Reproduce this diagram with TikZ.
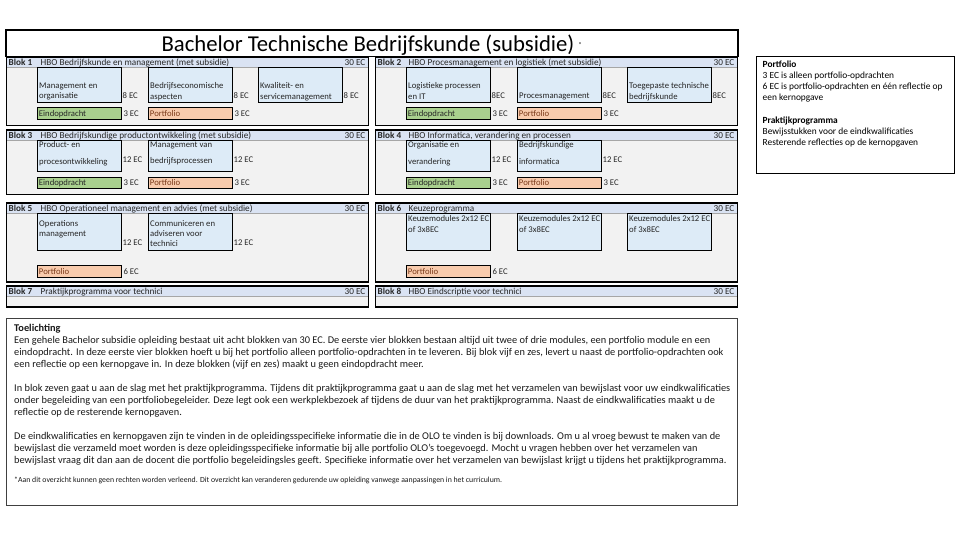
\documentclass[tikz,border=0pt]{standalone}
\usepackage{fontspec}
\setmainfont{Carlito}
\usetikzlibrary{positioning}

\definecolor{headblue}{HTML}{DAE3F3}
\definecolor{blokgray}{HTML}{F2F2F2}
\definecolor{modblue}{HTML}{DDEBF7}
\definecolor{eindgreen}{HTML}{A9D08E}
\definecolor{portorange}{HTML}{F8CBAD}
\definecolor{celltext}{HTML}{262626}
\definecolor{portbrown}{HTML}{7A3A1A}

\begin{document}
\begin{tikzpicture}[x=1pt,y=-1pt,
  blokframe/.style={draw=black,line width=1.6pt},
  blokhead/.style={fill=headblue,draw=black!35,line width=0.4pt},
  headtxt/.style={anchor=base west,inner sep=0pt,text=celltext,font=\fontsize{9.2}{11}\selectfont},
  modbox/.style={draw=black,fill=modblue,line width=0.9pt,anchor=north west,
    minimum width=84pt,minimum height=35pt,inner sep=0pt},
  modtxt/.style={anchor=north west,align=left,inner sep=0pt,text=celltext,font=\fontsize{8.7}{10.3}\selectfont},
  ectxt/.style={inner sep=0pt,text height=6pt,text depth=0pt,text=celltext,font=\fontsize{8.7}{10}\selectfont},
  eindbox/.style={draw=black,fill=eindgreen,line width=0.9pt,anchor=north west,text width=80pt,
    minimum height=12pt,inner xsep=2pt,inner ysep=0pt,text height=6pt,text depth=0pt,align=left,
    text=celltext,font=\fontsize{8.7}{10}\selectfont},
  portbox/.style={eindbox,fill=portorange,text=portbrown},
  sidetxt/.style={anchor=north west,align=left,inner sep=0pt,font=\fontsize{9.4}{11}\selectfont},
  notetxt/.style={anchor=north west,align=left,inner sep=0pt,text=black!90,font=\fontsize{10.35}{12}\selectfont}]
\useasboundingbox (0,0) rectangle (960,540);

\draw[blokframe] (6,30) rectangle (738,56.5);
\node[anchor=base,inner sep=0pt,font=\fontsize{22.7}{26}\selectfont] (title) at (368,51.5)
  {Bachelor Technische Bedrijfskunde (subsidie)};
\node[inner sep=0pt,font=\fontsize{7}{8}\selectfont] (star) at (580,45) {*};

% blok 1
\begin{scope}[shift={(6.5,57)}]
\fill[blokgray] (0,0) rectangle (362,68.5);
\filldraw[blokhead] (0,0) rectangle (362,10);
\node[headtxt] (b1no) at (2,8.2) {\textbf{Blok 1}};
\node[headtxt] (b1ti) at (34,8.2) {HBO Bedrijfskunde en management (met subsidie)};
\node[headtxt,anchor=base east] (b1ec) at (359,8.2) {30 EC};
\node[modbox] (b1m1) at (30,10) {};
\node[modbox] (b1m2) at (141,10) {};
\node[modbox] (b1m3) at (251,10) {};
\node[modtxt] (b1t1) at (32.5,25.5) {Management en\\organisatie};
\node[modtxt] (b1t2) at (143.5,25.5) {Bedrijfseconomische\\aspecten};
\node[modtxt] (b1t3) at (253.5,25.5) {Kwaliteit- en\\servicemanagement};
\node[ectxt,anchor=base west] (b1e1) at (116,41.8) {8 EC};
\node[ectxt,anchor=base west] (b1e2) at (227,41.8) {8 EC};
\node[ectxt,anchor=base west] (b1e3) at (337,41.8) {8 EC};
\node[eindbox] (b1eind) at (30,50) {Eindopdracht};
\node[portbox] (b1port) at (141,50) {Portfolio};
\node[ectxt,right=2pt of b1eind] (b1e4) {3 EC};
\node[ectxt,right=2pt of b1port] (b1e5) {3 EC};
\draw[blokframe] (0,0) rectangle (362,68.5);
\end{scope}

% blok 2
\begin{scope}[shift={(375.5,57)}]
\fill[blokgray] (0,0) rectangle (362,68.5);
\filldraw[blokhead] (0,0) rectangle (362,10);
\node[headtxt] (b2no) at (2,8.2) {\textbf{Blok 2}};
\node[headtxt] (b2ti) at (33,8.2) {HBO Procesmanagement en logistiek (met subsidie)};
\node[headtxt,anchor=base east] (b2ec) at (359,8.2) {30 EC};
\node[modbox] (b2m1) at (30,10) {};
\node[modbox] (b2m2) at (141,10) {};
\node[modbox] (b2m3) at (251,10) {};
\node[modtxt] (b2t1) at (32.5,25.5) {Logistieke processen\\en IT};
\node[modtxt] (b2t2) at (143.5,35.8) {Procesmanagement};
\node[modtxt] (b2t3) at (253.5,25.5) {Toegepaste technische\\bedrijfskunde};
\node[ectxt,anchor=base west] (b2e1) at (116,41.8) {8EC};
\node[ectxt,anchor=base west] (b2e2) at (227,41.8) {8EC};
\node[ectxt,anchor=base west] (b2e3) at (337,41.8) {8EC};
\node[eindbox] (b2eind) at (30,50) {Eindopdracht};
\node[portbox] (b2port) at (141,50) {Portfolio};
\node[ectxt,right=2pt of b2eind] (b2e4) {3 EC};
\node[ectxt,right=2pt of b2port] (b2e5) {3 EC};
\draw[blokframe] (0,0) rectangle (362,68.5);
\end{scope}

% blok 3
\begin{scope}[shift={(6.5,130)}]
\fill[blokgray] (0,0) rectangle (362,64.5);
\filldraw[blokhead] (0,0) rectangle (362,10.5);
\node[headtxt] (b3no) at (2,8.5) {\textbf{Blok 3}};
\node[headtxt] (b3ti) at (34,8.5) {HBO Bedrijfskundige productontwikkeling (met subsidie)};
\node[headtxt,anchor=base east] (b3ec) at (359,8.5) {30 EC};
\node[modbox,minimum height=30.5pt] (b3m1) at (30,10.5) {};
\node[modbox,minimum height=30.5pt] (b3m2) at (141,10.5) {};
\node[modtxt] (b3t1) at (32.5,11.3) {Product- en\\[6.2pt]procesontwikkeling};
\node[modtxt] (b3t2) at (143.5,11.3) {Management van\\[6.2pt]bedrijfsprocessen};
\node[ectxt,anchor=base west] (b3e1) at (116,32.8) {12 EC};
\node[ectxt,anchor=base west] (b3e2) at (227,32.8) {12 EC};
\node[eindbox,minimum height=11pt] (b3eind) at (30,47) {Eindopdracht};
\node[portbox,minimum height=11pt] (b3port) at (141,47) {Portfolio};
\node[ectxt,right=2pt of b3eind] (b3e4) {3 EC};
\node[ectxt,right=2pt of b3port] (b3e5) {3 EC};
\draw[blokframe] (0,0) rectangle (362,64.5);
\end{scope}

% blok 4
\begin{scope}[shift={(375.5,130)}]
\fill[blokgray] (0,0) rectangle (362,64.5);
\filldraw[blokhead] (0,0) rectangle (362,10.5);
\node[headtxt] (b4no) at (2,8.5) {\textbf{Blok 4}};
\node[headtxt] (b4ti) at (33,8.5) {HBO Informatica, verandering en processen};
\node[headtxt,anchor=base east] (b4ec) at (359,8.5) {30 EC};
\node[modbox,minimum height=30.5pt] (b4m1) at (30,10.5) {};
\node[modbox,minimum height=30.5pt] (b4m2) at (141,10.5) {};
\node[modtxt] (b4t1) at (32.5,11.3) {Organisatie en\\[6.2pt]verandering};
\node[modtxt] (b4t2) at (143.5,11.3) {Bedrijfskundige\\[6.2pt]informatica};
\node[ectxt,anchor=base west] (b4e1) at (116,32.8) {12 EC};
\node[ectxt,anchor=base west] (b4e2) at (227,32.8) {12 EC};
\node[eindbox,minimum height=11pt] (b4eind) at (30,47) {Eindopdracht};
\node[portbox,minimum height=11pt] (b4port) at (141,47) {Portfolio};
\node[ectxt,right=2pt of b4eind] (b4e4) {3 EC};
\node[ectxt,right=2pt of b4port] (b4e5) {3 EC};
\draw[blokframe] (0,0) rectangle (362,64.5);
\end{scope}

% blok 5
\begin{scope}[shift={(6.5,203)}]
\fill[blokgray] (0,0) rectangle (362,79);
\filldraw[blokhead] (0,0) rectangle (362,10);
\node[headtxt] (b5no) at (2,8.2) {\textbf{Blok 5}};
\node[headtxt] (b5ti) at (34,8.2) {HBO Operationeel management en advies (met subsidie)};
\node[headtxt,anchor=base east] (b5ec) at (359,8.2) {30 EC};
\node[modbox,minimum height=37pt] (b5m1) at (30,10) {};
\node[modbox,minimum height=37pt] (b5m2) at (141,10) {};
\node[modtxt,font=\fontsize{8.7}{10}\selectfont] (b5t1) at (32.5,16.9) {Operations\\management};
\node[modtxt,font=\fontsize{8.7}{10}\selectfont] (b5t2) at (143.5,16.9) {Communiceren en\\adviseren voor\\technici};
\node[ectxt,anchor=base west] (b5e1) at (116,42.8) {12 EC};
\node[ectxt,anchor=base west] (b5e2) at (227,42.8) {12 EC};
\node[portbox] (b5port) at (30,62) {Portfolio};
\node[ectxt,right=2pt of b5port] (b5e4) {6 EC};
\draw[blokframe] (0,0) rectangle (362,79);
\end{scope}

% blok 6
\begin{scope}[shift={(375.5,203)}]
\fill[blokgray] (0,0) rectangle (362,79);
\filldraw[blokhead] (0,0) rectangle (362,10);
\node[headtxt] (b6no) at (2,8.2) {\textbf{Blok 6}};
\node[headtxt] (b6ti) at (33,8.2) {Keuzeprogramma};
\node[headtxt,anchor=base east] (b6ec) at (359,8.2) {30 EC};
\node[modbox,minimum height=37pt] (b6m1) at (30,10) {};
\node[modbox,minimum height=37pt] (b6m2) at (141,10) {};
\node[modbox,minimum height=37pt] (b6m3) at (251,10) {};
\node[modtxt,font=\fontsize{8.7}{10.5}\selectfont] (b6t1) at (32.5,12.3) {Keuzemodules 2x12 EC\\of 3x8EC};
\node[modtxt,font=\fontsize{8.7}{10.5}\selectfont] (b6t2) at (143.5,12.3) {Keuzemodules 2x12 EC\\of 3x8EC};
\node[modtxt,font=\fontsize{8.7}{10.5}\selectfont] (b6t3) at (253.5,12.3) {Keuzemodules 2x12 EC\\of 3x8EC};
\node[portbox] (b6port) at (30,62) {Portfolio};
\node[ectxt,right=2pt of b6port] (b6e4) {6 EC};
\draw[blokframe] (0,0) rectangle (362,79);
\end{scope}

% blok 7 en 8
\begin{scope}[shift={(6.5,286)}]
\fill[blokgray] (0,0) rectangle (362,21);
\filldraw[blokhead] (0,0) rectangle (362,10);
\node[headtxt] (b7no) at (2,8.2) {\textbf{Blok 7}};
\node[headtxt] (b7ti) at (34,8.2) {Praktijkprogramma voor technici};
\node[headtxt,anchor=base east] (b7ec) at (359,8.2) {30 EC};
\draw[blokframe] (0,0) rectangle (362,21);
\end{scope}
\begin{scope}[shift={(375.5,286)}]
\fill[blokgray] (0,0) rectangle (362,21);
\filldraw[blokhead] (0,0) rectangle (362,10);
\node[headtxt] (b8no) at (2,8.2) {\textbf{Blok 8}};
\node[headtxt] (b8ti) at (33,8.2) {HBO Eindscriptie voor technici};
\node[headtxt,anchor=base east] (b8ec) at (359,8.2) {30 EC};
\draw[blokframe] (0,0) rectangle (362,21);
\end{scope}

% portfolio / praktijkprogramma
\draw[line width=1pt] (756,57) rectangle (954,173.5);
\node[sidetxt] (side) at (762.5,61) {\textbf{Portfolio}\\
  3 EC is alleen portfolio-opdrachten\\
  6 EC is portfolio-opdrachten en één reflectie op\\
  een kernopgave\\[12pt]
  \textbf{Praktijkprogramma}\\
  Bewijsstukken voor de eindkwalificaties\\
  Resterende reflecties op de kernopgaven};

% toelichting
\draw[line width=0.9pt,draw=black!75] (6,318) rectangle (737,505.5);
\node[notetxt] (uitleg) at (14,324) {\textbf{Toelichting}\\
  Een gehele Bachelor subsidie opleiding bestaat uit acht blokken van 30 EC. De eerste vier blokken bestaan altijd uit twee of drie modules, een portfolio module en een\\
  eindopdracht. In deze eerste vier blokken hoeft u bij het portfolio alleen portfolio-opdrachten in te leveren. Bij blok vijf en zes, levert u naast de portfolio-opdrachten ook\\
  een reflectie op een kernopgave in. In deze blokken (vijf en zes) maakt u geen eindopdracht meer.\\[12pt]
  In blok zeven gaat u aan de slag met het praktijkprogramma. Tijdens dit praktijkprogramma gaat u aan de slag met het verzamelen van bewijslast voor uw eindkwalificaties\\
  onder begeleiding van een portfoliobegeleider. Deze legt ook een werkplekbezoek af tijdens de duur van het praktijkprogramma. Naast de eindkwalificaties maakt u de\\
  reflectie op de resterende kernopgaven.\\[12pt]
  De eindkwalificaties en kernopgaven zijn te vinden in de opleidingsspecifieke informatie die in de OLO te vinden is bij downloads. Om u al vroeg bewust te maken van de\\
  bewijslast die verzameld moet worden is deze opleidingsspecifieke informatie bij alle portfolio OLO's toegevoegd. Mocht u vragen hebben over het verzamelen van\\
  bewijslast vraag dit dan aan de docent die portfolio begeleidingsles geeft. Specifieke informatie over het verzamelen van bewijslast krijgt u tijdens het praktijkprogramma.};
\node[anchor=base west,inner sep=0pt,text=black!90,font=\fontsize{7.8}{9}\selectfont] (voetnoot) at (14,482)
  {*Aan dit overzicht kunnen geen rechten worden verleend. Dit overzicht kan veranderen gedurende uw opleiding vanwege aanpassingen in het curriculum.};
\end{tikzpicture}
\end{document}
